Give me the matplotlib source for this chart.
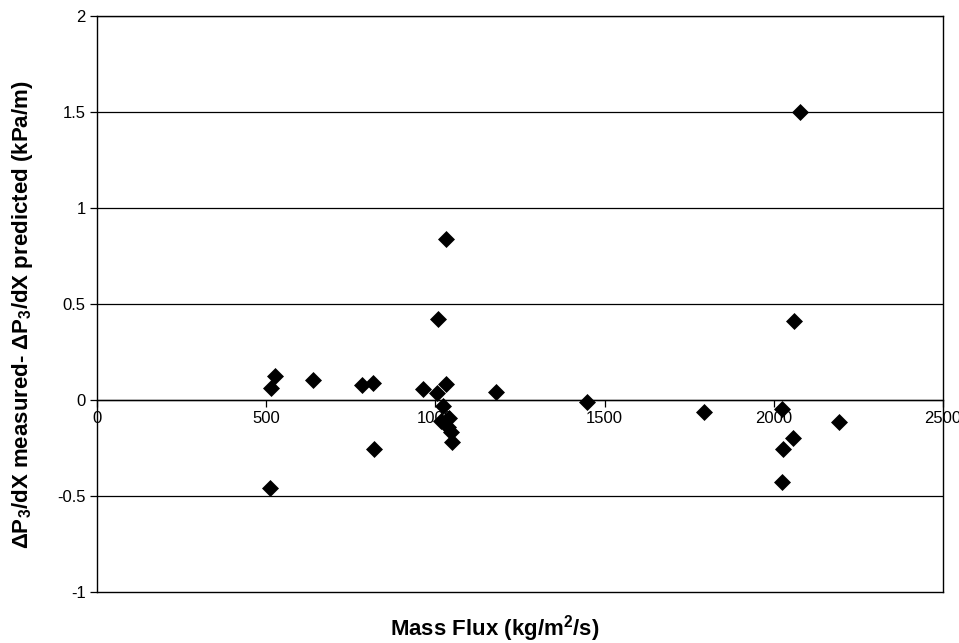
import matplotlib
matplotlib.use("Agg")
import matplotlib.pyplot as plt

plt.rcParams['font.family'] = ['Liberation Sans', 'DejaVu Sans']
plt.rcParams['mathtext.fontset'] = 'custom'
plt.rcParams['mathtext.rm'] = 'Liberation Sans:bold'
plt.rcParams['mathtext.it'] = 'Liberation Sans:bold'

# mass flux (kg/m2/s) vs pressure gradient difference (kPa/m)
mass_flux = [513, 526, 511, 639, 782, 817, 818, 964, 1004, 1008, 1031, 1031,
             1023, 1041, 1018, 1038, 1046, 1048, 1179, 1448, 1794,
             2025, 2058, 2028, 2025, 2077, 2060, 2194]
dp_diff = [0.06, 0.125, -0.46, 0.105, 0.08, 0.09, -0.255, 0.056, 0.035, 0.42, 0.84, 0.083,
           -0.03, -0.095, -0.11, -0.14, -0.165, -0.22, 0.042, -0.01, -0.063,
           -0.045, -0.196, -0.255, -0.425, 1.5, 0.41, -0.113]

x_ticks = [0, 500, 1000, 1500, 2000, 2500]
y_ticks = [-1, -0.5, 0, 0.5, 1, 1.5, 2]
y_labels = ['-1', '-0.5', '0', '0.5', '1', '1.5', '2']

fig = plt.figure(figsize=(9.59, 6.43), dpi=100)
ax = fig.add_axes([0.1011, 0.0793, 0.8822, 0.8958])

ax.scatter(mass_flux, dp_diff, marker='D', s=75, color='black', zorder=3, linewidths=0)

ax.set_xlim(0, 2500)
ax.set_ylim(-1, 2)
ax.set_xticks(x_ticks)
ax.set_xticklabels([str(t) for t in x_ticks])
ax.set_yticks(y_ticks)
ax.set_yticklabels(y_labels)

for v in y_ticks[1:]:
    ax.axhline(v, color='black', lw=0.9, zorder=1)
ax.axhline(-1, color='black', lw=1.0, zorder=2, clip_on=False)

ax.spines['bottom'].set_position(('data', 0))
for s in ax.spines.values():
    s.set_linewidth(1.0)
ax.tick_params(axis='both', labelsize=12, length=5, width=0.9, direction='out', pad=3)

fig.text(0.516, 0.023, 'Mass Flux (kg/m$^2$/s)', ha='center', va='center',
         fontsize=16, fontweight='bold')
fig.text(0.023, 0.51, r'$\Delta$P$_3$/dX measured- $\Delta$P$_3$/dX predicted (kPa/m)',
         ha='center', va='center', rotation=90, fontsize=16, fontweight='bold')

fig.savefig('out.png', dpi=100)
